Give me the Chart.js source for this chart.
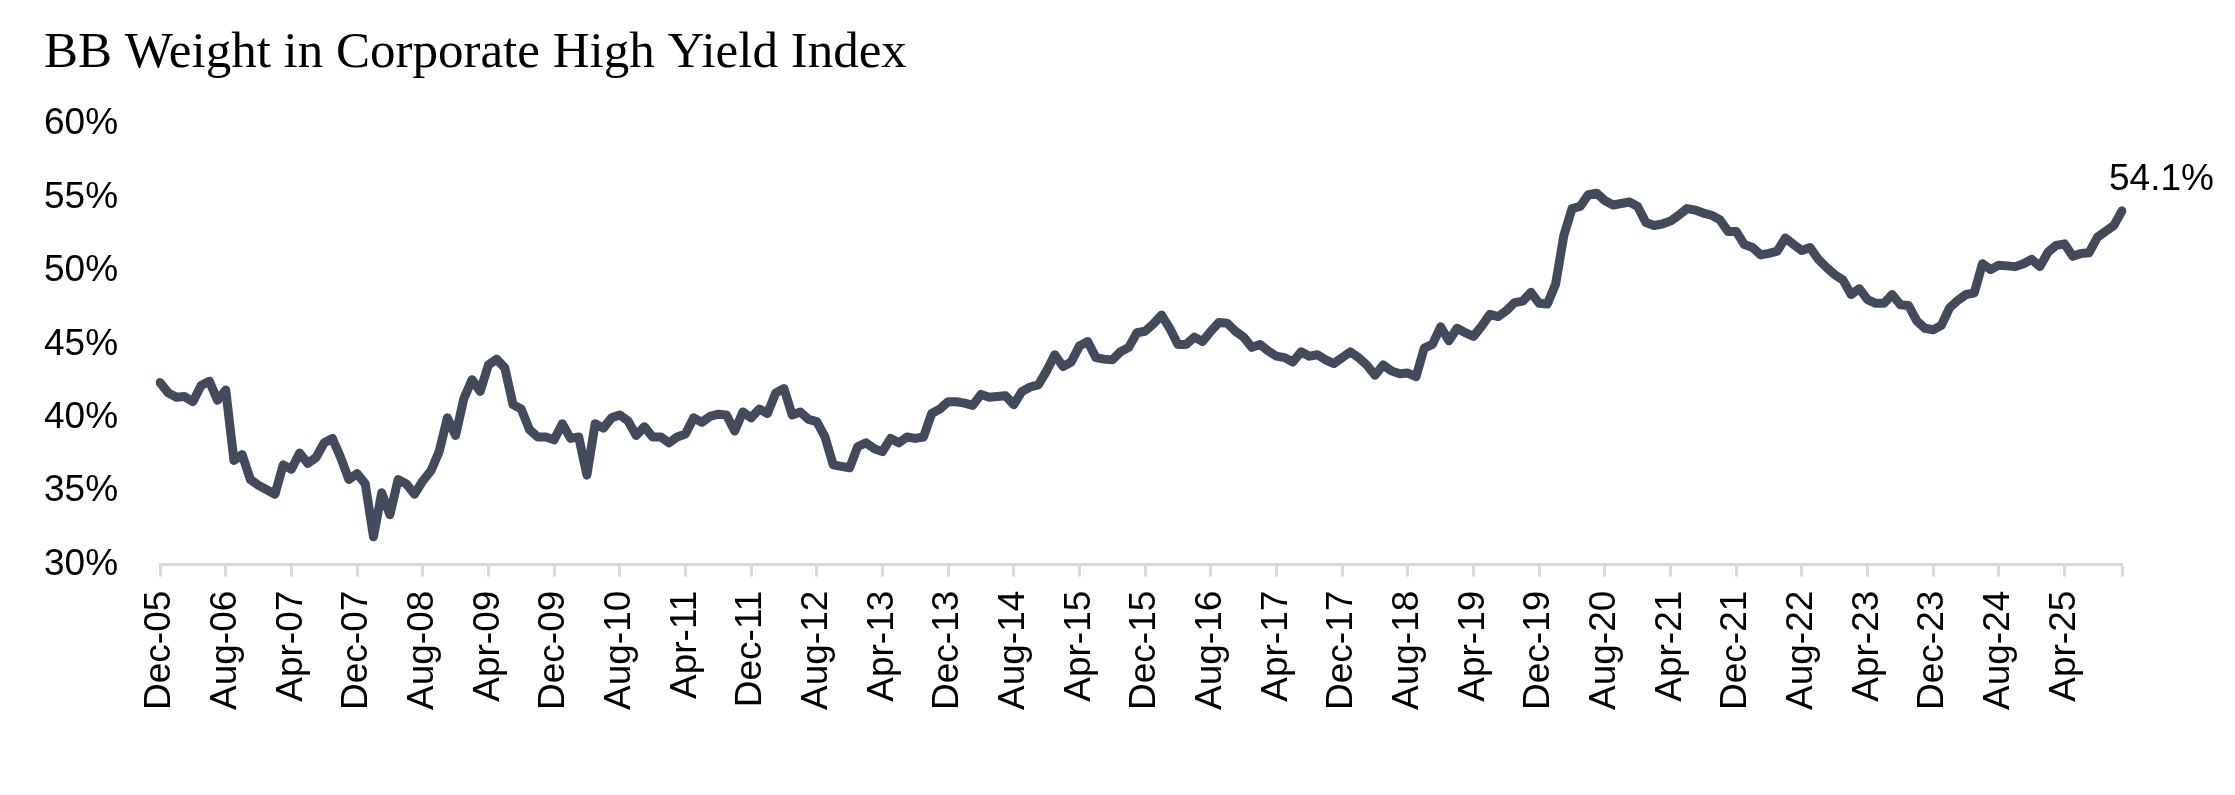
<!DOCTYPE html>
<html>
<head>
<meta charset="utf-8">
<script src="https://cdn.jsdelivr.net/npm/chart.js@4/dist/chart.umd.min.js"></script>
<style>
  html, body { margin: 0; padding: 0; background: #fff; }
  #wrap { width: 2235px; height: 795px; position: relative; }
</style>
</head>
<body>
<div id="wrap"><canvas id="bbChart"></canvas></div>
<script>
// monthly, Dec-05 .. Nov-25
const monthNames = ["Jan","Feb","Mar","Apr","May","Jun","Jul","Aug","Sep","Oct","Nov","Dec"];
const startYear = 2005, startMonth = 11, nMonths = 240;
const months = [];
for (let i = 0; i < nMonths; i++) {
  const m = (startMonth + i) % 12;
  const y = startYear + Math.floor((startMonth + i) / 12);
  months.push(monthNames[m] + "-" + String(y % 100).padStart(2, "0"));
}

// BB weight (%)
const bbWeight = [
  42.4, 41.7, 41.4, 41.45, 41.1, 42.2, 42.5, 41.2, 41.9, 37.1,
  37.5, 35.8, 35.4, 35.1, 34.8, 36.8, 36.5, 37.6, 36.9, 37.3,
  38.3, 38.6, 37.3, 35.8, 36.2, 35.5, 31.9, 34.9, 33.4, 35.8,
  35.5, 34.8, 35.7, 36.4, 37.7, 40.0, 38.8, 41.3, 42.6, 41.8,
  43.6, 44.0, 43.4, 40.9, 40.6, 39.2, 38.7, 38.7, 38.5, 39.6,
  38.6, 38.7, 36.1, 39.6, 39.3, 40.0, 40.2, 39.8, 38.8, 39.4,
  38.7, 38.7, 38.3, 38.7, 38.9, 40.0, 39.7, 40.1, 40.25, 40.2,
  39.1, 40.4, 40.0, 40.6, 40.3, 41.7, 42.0, 40.2, 40.4, 39.9,
  39.75, 38.7, 36.8, 36.7, 36.6, 38.05, 38.3, 37.9, 37.7, 38.6,
  38.3, 38.7, 38.6, 38.7, 40.3, 40.6, 41.1, 41.1, 41.0, 40.85,
  41.6, 41.4, 41.45, 41.5, 40.9, 41.8, 42.1, 42.25, 43.2, 44.3,
  43.5, 43.8, 44.9, 45.2, 44.1, 44.0, 43.95, 44.5, 44.8, 45.8,
  45.9, 46.4, 47.0, 46.1, 45.0, 45.0, 45.5, 45.2, 45.9, 46.5,
  46.45, 45.9, 45.5, 44.8, 45.0, 44.55, 44.2, 44.1, 43.8, 44.5,
  44.2, 44.3, 43.95, 43.7, 44.1, 44.5, 44.1, 43.6, 42.9, 43.6,
  43.2, 43.0, 43.05, 42.8, 44.75, 45.0, 46.2, 45.25, 46.1, 45.8,
  45.55, 46.25, 47.05, 46.9, 47.3, 47.85, 47.95, 48.55, 47.8, 47.75,
  49.1, 52.4, 54.25, 54.4, 55.2, 55.3, 54.8, 54.5, 54.6, 54.7,
  54.4, 53.3, 53.1, 53.2, 53.4, 53.8, 54.25, 54.15, 53.95, 53.8,
  53.5, 52.7, 52.7, 51.8, 51.6, 51.1, 51.2, 51.35, 52.25, 51.8,
  51.4, 51.6, 50.8, 50.25, 49.75, 49.4, 48.4, 48.8, 48.05, 47.8,
  47.8, 48.4, 47.7, 47.65, 46.6, 46.1, 46.0, 46.3, 47.5, 48.0,
  48.4, 48.5, 50.5, 50.1, 50.4, 50.35, 50.3, 50.5, 50.8, 50.3,
  51.3, 51.75, 51.85, 51.0, 51.2, 51.25, 52.3, 52.7, 53.1, 54.1
];

const labelEvery = 8;
const lastLabel = "54.1%";

// label next to the last point
const lastValuePlugin = {
  id: "lastValue",
  afterDatasetsDraw(chart) {
    const meta = chart.getDatasetMeta(0);
    const pt = meta.data[meta.data.length - 1];
    const ctx = chart.ctx;
    ctx.save();
    ctx.font = "37px 'Liberation Sans', Arial, sans-serif";
    ctx.fillStyle = "#000";
    ctx.textAlign = "left";
    ctx.textBaseline = "middle";
    ctx.fillText(lastLabel, pt.x - 13, pt.y - 31);
    ctx.restore();
  }
};

const data = {
  labels: months,
  datasets: [{
    label: "BB Weight",
    data: bbWeight,
    borderColor: "#434a5c",
    backgroundColor: "#434a5c",
    borderWidth: 9,
    borderCapStyle: "round",
    borderJoinStyle: "round",
    pointRadius: 0,
    tension: 0
  }]
};

const config = {
  type: "line",
  data: data,
  plugins: [lastValuePlugin],
  options: {
    responsive: true,
    maintainAspectRatio: false,
    animation: false,
    devicePixelRatio: 1,
    layout: { padding: { left: 44, right: 113, top: 19, bottom: 71 } },
    plugins: {
      legend: { display: false },
      tooltip: { enabled: false },
      title: {
        display: true,
        text: "BB Weight in Corporate High Yield Index",
        align: "start",
        color: "#000",
        font: { family: "'Liberation Serif', 'Times New Roman', serif", size: 51, weight: "normal" },
        padding: { top: 4, bottom: 40 }
      }
    },
    scales: {
      x: {
        type: "category",
        offset: false,
        afterFit: (s) => { s.paddingLeft = 0; },
        grid: {
          display: true,
          drawOnChartArea: false,
          drawTicks: true,
          tickLength: 12,
          tickWidth: 3,
          tickColor: (c) => (c.index % labelEvery === 0 || c.index === nMonths - 1) ? "#d9d9d9" : "rgba(0,0,0,0)"
        },
        border: { display: true, color: "#d9d9d9", width: 3 },
        ticks: {
          autoSkip: false,
          minRotation: 90,
          maxRotation: 90,
          padding: 14,
          color: "#000",
          font: { family: "'Liberation Sans', Arial, sans-serif", size: 37 },
          callback: function (val, i) {
            return i % labelEvery === 0 ? months[i] : "";
          }
        }
      },
      y: {
        min: 30,
        max: 60,
        // vertical axes count the tick padding twice; keep it once
        afterFit: (s) => { s.width -= s.options.ticks.padding; },
        grid: { display: false, drawTicks: false },
        border: { display: false },
        ticks: {
          stepSize: 5,
          padding: 42,
          color: "#000",
          font: { family: "'Liberation Sans', Arial, sans-serif", size: 37 },
          callback: (v) => v + "%"
        }
      }
    }
  }
};

const myChart = new Chart(document.getElementById("bbChart"), config);
</script>
</body>
</html>
